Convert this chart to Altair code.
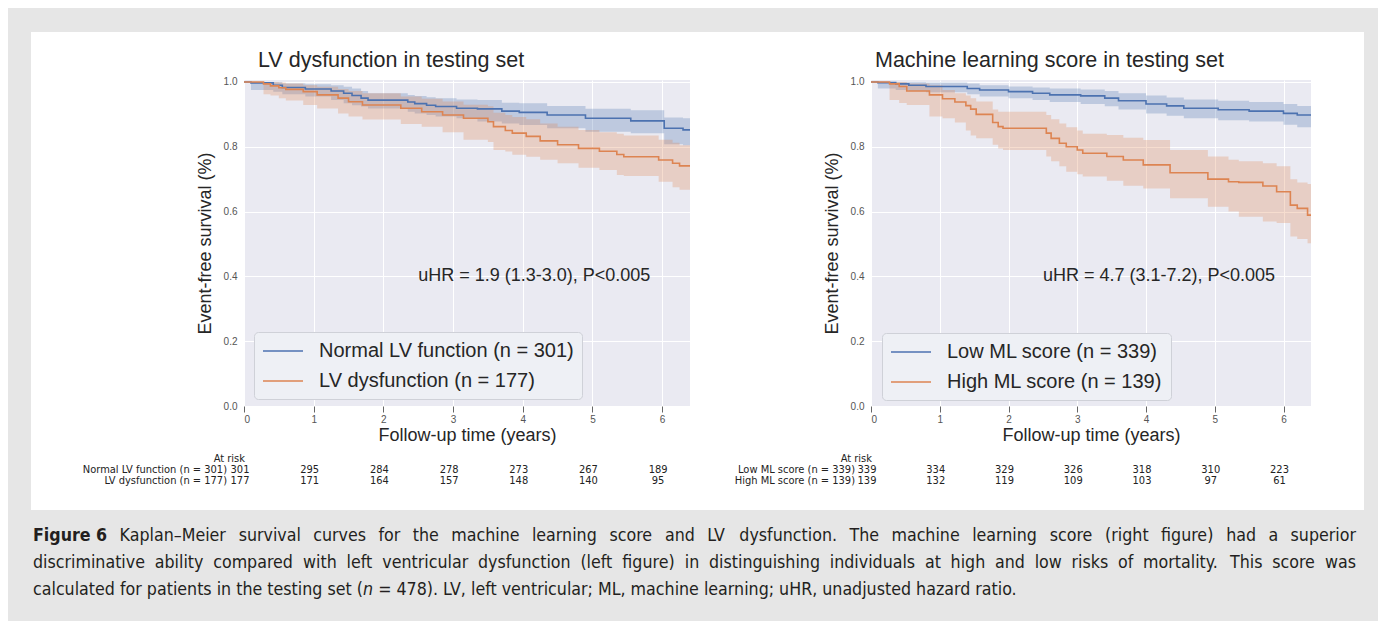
import glob
import struct

import altair as alt
import pandas as pd

FONT = "Liberation Sans"
NARROW = "DejaVu Sans Condensed"
BLUE = "#4c72b0"
ORANGE = "#dd8452"
TXT = "#262626"

# ---------------- data ----------------
L_TITLE = "LV dysfunction in testing set"
R_TITLE = "Machine learning score in testing set"
L_GROUPS = ["Normal LV function (n = 301)", "LV dysfunction (n = 177)"]
R_GROUPS = ["Low ML score (n = 339)", "High ML score (n = 139)"]
L_HR = "uHR = 1.9 (1.3-3.0), P<0.005"
R_HR = "uHR = 4.7 (3.1-7.2), P<0.005"
HR_POS = [2.5, 0.4]
X_TICKS = [0, 1, 2, 3, 4, 5, 6]
Y_TICKS = [0.0, 0.2, 0.4, 0.6, 0.8, 1.0]
X_MAX = 6.4

# Left: normal LV function
ln_t = [0.00, 0.10, 0.42, 0.55, 0.88, 1.25, 1.43, 1.55, 1.68, 1.78, 2.35, 2.45, 2.62, 2.75, 3.05, 3.35, 3.70, 3.95, 4.35, 4.90, 5.55, 6.03, 6.30, 6.40]
ln_s = [1.000, 0.997, 0.990, 0.983, 0.978, 0.972, 0.965, 0.958, 0.950, 0.944, 0.938, 0.933, 0.928, 0.924, 0.919, 0.917, 0.910, 0.906, 0.898, 0.888, 0.880, 0.857, 0.852, 0.852]
ln_lo = [1.000, 0.975, 0.970, 0.962, 0.955, 0.944, 0.934, 0.928, 0.924, 0.918, 0.908, 0.903, 0.898, 0.893, 0.888, 0.878, 0.872, 0.867, 0.857, 0.846, 0.842, 0.808, 0.805, 0.805]
ln_hi = [1.000, 1.000, 1.000, 0.995, 0.993, 0.990, 0.985, 0.980, 0.972, 0.965, 0.960, 0.957, 0.953, 0.950, 0.946, 0.944, 0.936, 0.934, 0.926, 0.917, 0.913, 0.890, 0.888, 0.888]

# Left: LV dysfunction
ld_t = [0.00, 0.28, 0.38, 0.50, 0.60, 0.85, 1.05, 1.35, 1.50, 1.70, 2.25, 2.55, 2.85, 3.15, 3.50, 3.58, 3.75, 3.85, 4.05, 4.25, 4.50, 4.80, 5.10, 5.35, 5.45, 5.95, 6.15, 6.25, 6.40]
ld_s = [1.000, 0.994, 0.988, 0.982, 0.977, 0.970, 0.960, 0.950, 0.939, 0.929, 0.919, 0.908, 0.898, 0.888, 0.877, 0.862, 0.850, 0.842, 0.832, 0.818, 0.806, 0.795, 0.786, 0.776, 0.769, 0.759, 0.749, 0.741, 0.741]
ld_lo = [1.000, 0.962, 0.958, 0.950, 0.943, 0.929, 0.918, 0.903, 0.893, 0.884, 0.870, 0.862, 0.845, 0.822, 0.815, 0.790, 0.785, 0.775, 0.769, 0.760, 0.749, 0.735, 0.728, 0.713, 0.710, 0.692, 0.675, 0.667, 0.667]
ld_hi = [1.000, 1.000, 1.000, 0.998, 0.995, 0.990, 0.985, 0.978, 0.972, 0.965, 0.955, 0.948, 0.940, 0.930, 0.925, 0.905, 0.898, 0.892, 0.885, 0.872, 0.862, 0.852, 0.845, 0.840, 0.835, 0.822, 0.812, 0.805, 0.805]

# Right: low ML score
rl_t = [0.00, 0.10, 0.36, 0.55, 0.80, 1.40, 1.58, 2.00, 2.35, 2.60, 3.05, 3.40, 3.60, 4.00, 4.30, 4.55, 5.05, 5.50, 6.00, 6.20, 6.40]
rl_s = [1.000, 0.998, 0.994, 0.990, 0.986, 0.980, 0.975, 0.970, 0.965, 0.960, 0.957, 0.950, 0.942, 0.932, 0.926, 0.919, 0.914, 0.910, 0.903, 0.898, 0.898]
rl_lo = [1.000, 0.980, 0.975, 0.972, 0.968, 0.962, 0.955, 0.950, 0.944, 0.938, 0.932, 0.925, 0.915, 0.903, 0.896, 0.888, 0.882, 0.878, 0.868, 0.860, 0.860]
rl_hi = [1.000, 1.000, 1.000, 1.000, 0.998, 0.995, 0.990, 0.986, 0.983, 0.980, 0.977, 0.972, 0.965, 0.958, 0.952, 0.946, 0.942, 0.938, 0.932, 0.926, 0.926]

# Right: high ML score
rh_t = [0.00, 0.27, 0.41, 0.52, 0.85, 1.04, 1.22, 1.38, 1.45, 1.53, 1.77, 1.85, 1.92, 2.55, 2.62, 2.74, 2.84, 3.00, 3.08, 3.43, 3.67, 3.96, 4.35, 4.90, 5.20, 5.35, 5.70, 5.90, 6.10, 6.20, 6.35, 6.40]
rh_s = [1.000, 0.994, 0.986, 0.972, 0.960, 0.948, 0.938, 0.927, 0.916, 0.900, 0.875, 0.862, 0.857, 0.842, 0.826, 0.811, 0.800, 0.790, 0.780, 0.770, 0.759, 0.744, 0.720, 0.700, 0.692, 0.690, 0.679, 0.661, 0.620, 0.610, 0.589, 0.589]
rh_lo = [1.000, 0.944, 0.935, 0.929, 0.893, 0.888, 0.875, 0.850, 0.835, 0.826, 0.806, 0.795, 0.790, 0.770, 0.755, 0.740, 0.723, 0.715, 0.708, 0.695, 0.680, 0.671, 0.641, 0.615, 0.600, 0.584, 0.569, 0.565, 0.523, 0.515, 0.502, 0.502]
rh_hi = [1.000, 1.000, 1.000, 0.995, 0.990, 0.975, 0.965, 0.958, 0.950, 0.940, 0.915, 0.908, 0.908, 0.898, 0.885, 0.872, 0.860, 0.850, 0.840, 0.836, 0.828, 0.821, 0.790, 0.770, 0.760, 0.755, 0.749, 0.740, 0.700, 0.690, 0.685, 0.685]

# At-risk tables
RISK_T = [0, 1, 2, 3, 4, 5, 6]
l_risk_norm = [301, 295, 284, 278, 273, 267, 189]
l_risk_dys = [177, 171, 164, 157, 148, 140, 95]
r_risk_low = [339, 334, 329, 326, 318, 310, 223]
r_risk_high = [139, 132, 119, 109, 103, 97, 61]

CAP_BOLD = "Figure 6"
CAP1 = "Kaplan–Meier survival curves for the machine learning score and LV dysfunction. The machine learning score (right figure) had a superior"
CAP2 = "discriminative ability compared with left ventricular dysfunction (left figure) in distinguishing individuals at high and low risks of mortality. This score was"
CAP3A = "calculated for patients in the testing set ("
CAP3N = "n"
CAP3B = "= 478). LV, left ventricular; ML, machine learning; uHR, unadjusted hazard ratio."


# ---------------- text metrics (for caption justification) ----------------
def parse_ttf(path):
    data = open(path, "rb").read()
    ntab = struct.unpack(">H", data[4:6])[0]
    tabs = {}
    for i in range(ntab):
        tag, _, off, ln = struct.unpack(">4sIII", data[12 + 16 * i: 28 + 16 * i])
        tabs[tag.decode("latin1")] = off
    upem = struct.unpack(">H", data[tabs["head"] + 18: tabs["head"] + 20])[0]
    nhm = struct.unpack(">H", data[tabs["hhea"] + 34: tabs["hhea"] + 36])[0]
    ho = tabs["hmtx"]
    adv = [struct.unpack(">H", data[ho + 4 * i: ho + 4 * i + 2])[0] for i in range(nhm)]
    co = tabs["cmap"]
    nsub = struct.unpack(">H", data[co + 2: co + 4])[0]
    cmap = {}
    for i in range(nsub):
        pid, eid, so = struct.unpack(">HHI", data[co + 4 + 8 * i: co + 12 + 8 * i])
        if pid == 3 and eid == 1:
            st = co + so
            if struct.unpack(">H", data[st: st + 2])[0] != 4:
                continue
            s2 = struct.unpack(">H", data[st + 6: st + 8])[0]
            n = s2 // 2
            ends = struct.unpack(">%dH" % n, data[st + 14: st + 14 + s2])
            starts = struct.unpack(">%dH" % n, data[st + 16 + s2: st + 16 + 2 * s2])
            deltas = struct.unpack(">%dh" % n, data[st + 16 + 2 * s2: st + 16 + 3 * s2])
            rp = st + 16 + 3 * s2
            ros = struct.unpack(">%dH" % n, data[rp: rp + s2])
            for k in range(n):
                for c in range(starts[k], min(ends[k], 0x2100) + 1):
                    if ros[k] == 0:
                        g = (c + deltas[k]) & 0xFFFF
                    else:
                        a = rp + 2 * k + ros[k] + 2 * (c - starts[k])
                        g = struct.unpack(">H", data[a: a + 2])[0]
                        if g:
                            g = (g + deltas[k]) & 0xFFFF
                    cmap[c] = g
            break

    def width(text, size):
        tot = 0
        for ch in text:
            g = cmap.get(ord(ch), 0)
            tot += adv[g] if g < nhm else adv[-1]
        return tot * size / upem
    return width


def metrics(fname):
    for p in glob.glob("/usr/share/fonts/**/" + fname, recursive=True) + \
            glob.glob("/usr/local/share/fonts/**/" + fname, recursive=True):
        try:
            return parse_ttf(p)
        except Exception:
            pass
    return lambda text, size: len(text) * 0.5 * size


W_REG = metrics("DejaVuSansCondensed.ttf")
W_BOLD = metrics("DejaVuSansCondensed-Bold.ttf")
W_ITAL = metrics("DejaVuSansCondensed-Oblique.ttf")

CAP_X0, CAP_X1 = 25, 1348          # caption text block (relative to the deco panel)
CAP_Y = [456, 483, 510]
line3_units = W_REG(CAP3A, 1) + W_ITAL(CAP3N, 1) + W_REG(" " + CAP3B, 1)
CAP_SIZE = max(15.0, min(19.0, 987.0 / line3_units))

words = []  # (text, px, py, style)


def justify(tokens, y):
    nat = sum(w(t, CAP_SIZE) for t, w, _ in tokens)
    gap = (CAP_X1 - CAP_X0 - nat) / (len(tokens) - 1)
    x = CAP_X0
    for t, w, st in tokens:
        words.append((t, x, y, st))
        x += w(t, CAP_SIZE) + gap


justify([(CAP_BOLD, W_BOLD, "bold")] + [(t, W_REG, "normal") for t in CAP1.split(" ")], CAP_Y[0])
justify([(t, W_REG, "normal") for t in CAP2.split(" ")], CAP_Y[1])
x3 = CAP_X0
words.append((CAP3A, x3, CAP_Y[2], "normal"))
x3 += W_REG(CAP3A, CAP_SIZE)
words.append((CAP3N, x3, CAP_Y[2], "italic"))
x3 += W_ITAL(CAP3N, CAP_SIZE) + W_REG(" ", CAP_SIZE)
words.append((CAP3B, x3, CAP_Y[2], "normal"))
cap_df = pd.DataFrame(words, columns=["label", "px", "py", "style"])

RISK_SIZE = 11
RISK_Y = [379, 390, 401]
# legend key: a 40 px line drawn with a 20 px layout box (path spans -1..3 of the unit box)
LEG_SYMBOL = "M-1,0H3"


def panel(groups, curves, risks, title, hr_text, width, title_dx, leg_xy, lab_dx):
    rows = []
    for g, (t, s, lo, hi) in zip(groups, curves):
        rows += [dict(group=g, band=g + " ", t=a, s=b, lo=c, hi=d) for a, b, c, d in zip(t, s, lo, hi)]
    df = pd.DataFrame(rows)
    xs = alt.Scale(domain=[0, X_MAX], nice=False, zero=False)
    ys = alt.Scale(domain=[0, 1.006], nice=False)
    cs = alt.Scale(domain=groups, range=[BLUE, ORANGE])
    bs = alt.Scale(domain=[g + " " for g in groups], range=[BLUE, ORANGE])
    x_axis = alt.Axis(values=X_TICKS, format="d", grid=True, gridColor="white", gridWidth=1,
                      domain=False, tickSize=6, tickColor="#666666", tickWidth=1, labelAngle=0,
                      labelFontSize=10, labelColor="#555555", labelPadding=2, labelFont=FONT,
                      title="Follow-up time (years)", titleFontSize=18, titleFont=FONT,
                      titleColor=TXT, titleFontWeight="normal", titlePadding=2)
    y_axis = alt.Axis(values=Y_TICKS, format=".1f", grid=True, gridColor="white", gridWidth=1,
                      domain=False, ticks=False, labelFontSize=10, labelColor="#555555",
                      labelPadding=7, labelFont=FONT,
                      title="Event-free survival (%)", titleFontSize=18, titleFont=FONT,
                      titleColor=TXT, titleFontWeight="normal", titlePadding=9)
    base = alt.Chart(df)
    band = base.mark_area(interpolate="step-after", fillOpacity=0.28, clip=True).encode(
        x=alt.X("t:Q", scale=xs, axis=x_axis),
        y=alt.Y("lo:Q", scale=ys, axis=y_axis, stack=None),
        y2="hi:Q",
        fill=alt.Fill("band:N", scale=bs, legend=None),
    )
    line = base.mark_line(interpolate="step-after", strokeWidth=1.6, clip=True).encode(
        x=alt.X("t:Q", scale=xs, axis=x_axis),
        y=alt.Y("s:Q", scale=ys, axis=y_axis),
        stroke=alt.Stroke("group:N", scale=cs, sort=groups, legend=alt.Legend(
            orient="none", legendX=leg_xy[0], legendY=leg_xy[1], title=None, direction="vertical",
            symbolType=LEG_SYMBOL, symbolSize=400, symbolStrokeWidth=1.6, symbolOpacity=1,
            labelFontSize=20, labelFont=FONT, labelColor=TXT, labelOffset=35, labelLimit=500,
            rowPadding=9, padding=8, fillColor="#eef0f5", strokeColor="#cfd1d8", cornerRadius=4)),
    )
    title_l = alt.Chart(pd.DataFrame({"label": [title]})).mark_text(
        align="left", baseline="alphabetic", font=FONT, fontSize=21.5, color=TXT
    ).encode(x=alt.value(title_dx), y=alt.value(-13), text="label:N")
    hr = alt.Chart(pd.DataFrame({"t": [HR_POS[0]], "s": [HR_POS[1]], "label": [hr_text]})).mark_text(
        align="left", baseline="middle", font=FONT, fontSize=18, color=TXT
    ).encode(x=alt.X("t:Q", scale=xs), y=alt.Y("s:Q", scale=ys), text="label:N")
    layers = [band, line, hr, title_l]
    layers.append(alt.Chart(pd.DataFrame({"label": ["At risk"]})).mark_text(
        align="right", baseline="middle", font=NARROW, fontSize=RISK_SIZE, color="#222222"
    ).encode(x=alt.value(1), y=alt.value(RISK_Y[0]), text="label:N"))
    for i, (g, cnt) in enumerate(zip(groups, risks)):
        rdf = pd.DataFrame({"t": RISK_T, "n": cnt})
        yv = RISK_Y[i + 1]
        layers.append(alt.Chart(rdf).mark_text(
            align="center", baseline="middle", dx=-4, font=NARROW, fontSize=RISK_SIZE, color="#222222"
        ).encode(x=alt.X("t:Q", scale=xs), y=alt.value(yv), text="n:Q"))
        layers.append(alt.Chart(pd.DataFrame({"label": [g]})).mark_text(
            align="right", baseline="middle", font=NARROW, fontSize=RISK_SIZE, color="#222222"
        ).encode(x=alt.value(lab_dx), y=alt.value(yv), text="label:N"))
    return alt.layer(*layers).properties(
        width=width, height=326, view=alt.ViewBackground(fill="#eaeaf2", strokeWidth=0)
    )


left = panel(L_GROUPS, [(ln_t, ln_s, ln_lo, ln_hi), (ld_t, ld_s, ld_lo, ld_hi)],
             [l_risk_norm, l_risk_dys], L_TITLE, L_HR, 446, 14, (10, 252), -17)
right = panel(R_GROUPS, [(rl_t, rl_s, rl_lo, rl_hi), (rh_t, rh_s, rh_lo, rh_hi)],
              [r_risk_low, r_risk_high], R_TITLE, R_HR, 440, 4, (11, 253), -16)

one = pd.DataFrame({"a": [0]})
bg = alt.Chart(one).mark_rect(color="#e6e6e6").encode(
    x=alt.value(0), x2=alt.value(1370), y=alt.value(-72), y2=alt.value(541))
panel_bg = alt.Chart(one).mark_rect(color="white").encode(
    x=alt.value(23), x2=alt.value(1356), y=alt.value(-48), y2=alt.value(430))

cap_layers = []
for style in ["normal", "bold", "italic"]:
    kw = dict(align="left", baseline="middle", font=NARROW, fontSize=CAP_SIZE, color="#231f20")
    if style == "bold":
        kw["fontWeight"] = "bold"
    if style == "italic":
        kw["fontStyle"] = "italic"
    cap_layers.append(alt.Chart(cap_df[cap_df["style"] == style]).mark_text(**kw).encode(
        x=alt.X("px:Q", scale=None), y=alt.Y("py:Q", scale=None), text="label:N"))

deco = alt.layer(bg, panel_bg, *cap_layers).properties(
    width=55, height=326, view=alt.ViewBackground(strokeWidth=0))

chart = alt.hconcat(deco, left, right, spacing=181, bounds="flush").resolve_scale(
    x="independent", y="independent", fill="independent", stroke="independent"
).resolve_legend(stroke="independent", fill="independent").properties(padding=0).configure(font=FONT)

chart.save("out.html", embed_options={"renderer": "svg", "actions": False})
